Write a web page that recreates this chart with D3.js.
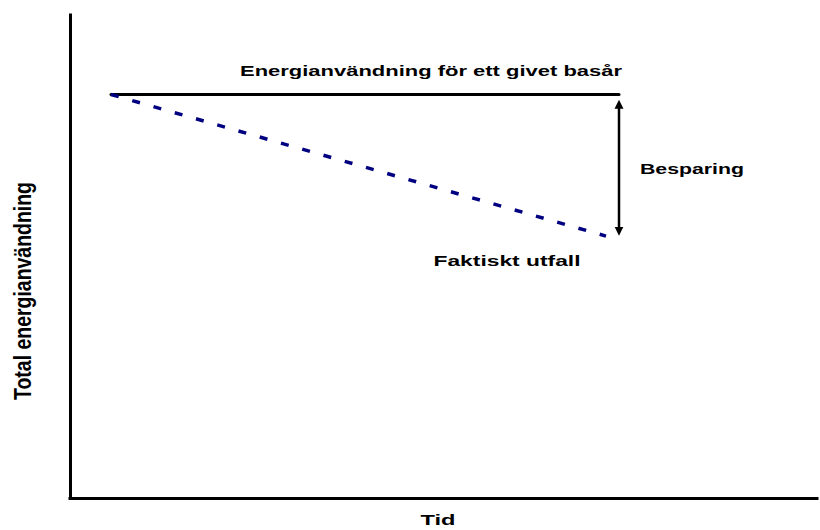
<!DOCTYPE html>
<html>
<head>
<meta charset="utf-8">
<script src="https://cdn.jsdelivr.net/npm/d3@7"></script>
<style>
	body { margin: 0; background: #fff; }
	text { font-family: "Liberation Sans", Arial, sans-serif; font-weight: bold; fill: #000; }
</style>
</head>
<body>
<div id="chart"></div>
<script>
// schematic values (time units / energy index)
var tid = [0.82, 10.98];          // base year line start / end
var basYear = [83.2, 83.2];       // energy use for the given base year
var actualTid = [0.82, 10.72];
var actual = [83.2, 54.0];        // actual outcome
var savingTid = 10.98;
var saving = [82.0, 54.2];        // arrow between the two

var labels = {
	base: "Energianvändning för ett givet basår",
	actual: "Faktiskt utfall",
	saving: "Besparing",
	x: "Tid",
	y: "Total energianvändning"
};

var width = 820,
	height = 530;

var x = d3.scaleLinear().domain([0, 15]).range([70, 820]),
	y = d3.scaleLinear().domain([0, 100]).range([498, 13]);

var svg = d3.select("#chart")
	.append("svg")
	.attr("width", width)
	.attr("height", height);

var defs = svg.append("defs");
["start", "end"].forEach(function(k) {
	defs.append("marker")
		.attr("id", "arr-" + k)
		.attr("viewBox", "0 0 10 10")
		.attr("refX", 5)
		.attr("refY", 5)
		.attr("markerWidth", 3.6)
		.attr("markerHeight", 4.4)
		.attr("markerUnits", "strokeWidth")
		.attr("orient", "auto-start-reverse")
		.append("path")
		.attr("d", "M0,0L10,5L0,10Z")
		.attr("fill", "#000");
});

// axes without ticks
svg.append("g")
	.attr("transform", "translate(" + x(0) + ",0)")
	.call(d3.axisLeft(y).tickValues([]).tickSizeOuter(0))
	.select(".domain")
	.attr("stroke", "#000")
	.attr("stroke-width", 3);

svg.append("g")
	.attr("transform", "translate(-2," + y(0) + ")")
	.call(d3.axisBottom(x).tickValues([]).tickSizeOuter(0))
	.select(".domain")
	.attr("stroke", "#000")
	.attr("stroke-width", 3);

var line = d3.line()
	.x(function(d) { return x(d[0]); })
	.y(function(d) { return y(d[1]); });

svg.append("path")
	.attr("d", line(d3.zip(tid, basYear)))
	.attr("fill", "none")
	.attr("stroke", "#000")
	.attr("stroke-width", 3)
	.attr("stroke-linecap", "round");

svg.append("path")
	.attr("d", line(d3.zip(actualTid, actual)))
	.attr("fill", "none")
	.attr("stroke", "#000080")
	.attr("stroke-width", 3.5)
	.attr("stroke-dasharray", "8,14.1");

svg.append("line")
	.attr("x1", x(savingTid))
	.attr("x2", x(savingTid))
	.attr("y1", y(saving[0]) + 4)
	.attr("y2", y(saving[1]) - 4)
	.attr("stroke", "#000")
	.attr("stroke-width", 2.5)
	.attr("marker-start", "url(#arr-start)")
	.attr("marker-end", "url(#arr-end)");

function label(txt, cx, by, len) {
	svg.append("text")
		.attr("x", cx)
		.attr("y", by)
		.attr("text-anchor", "middle")
		.attr("font-size", 15)
		.attr("textLength", len)
		.attr("lengthAdjust", "spacingAndGlyphs")
		.text(txt);
}

label(labels.base, 431, 76, 382);
label(labels.saving, 692, 174, 104);
label(labels.actual, 507, 266, 147);
label(labels.x, 438, 525, 35);

svg.append("text")
	.attr("transform", "translate(31,291) rotate(-90) scale(1,1.5)")
	.attr("text-anchor", "middle")
	.attr("font-size", 16)
	.attr("textLength", 218)
	.attr("lengthAdjust", "spacingAndGlyphs")
	.text(labels.y);
</script>
</body>
</html>
